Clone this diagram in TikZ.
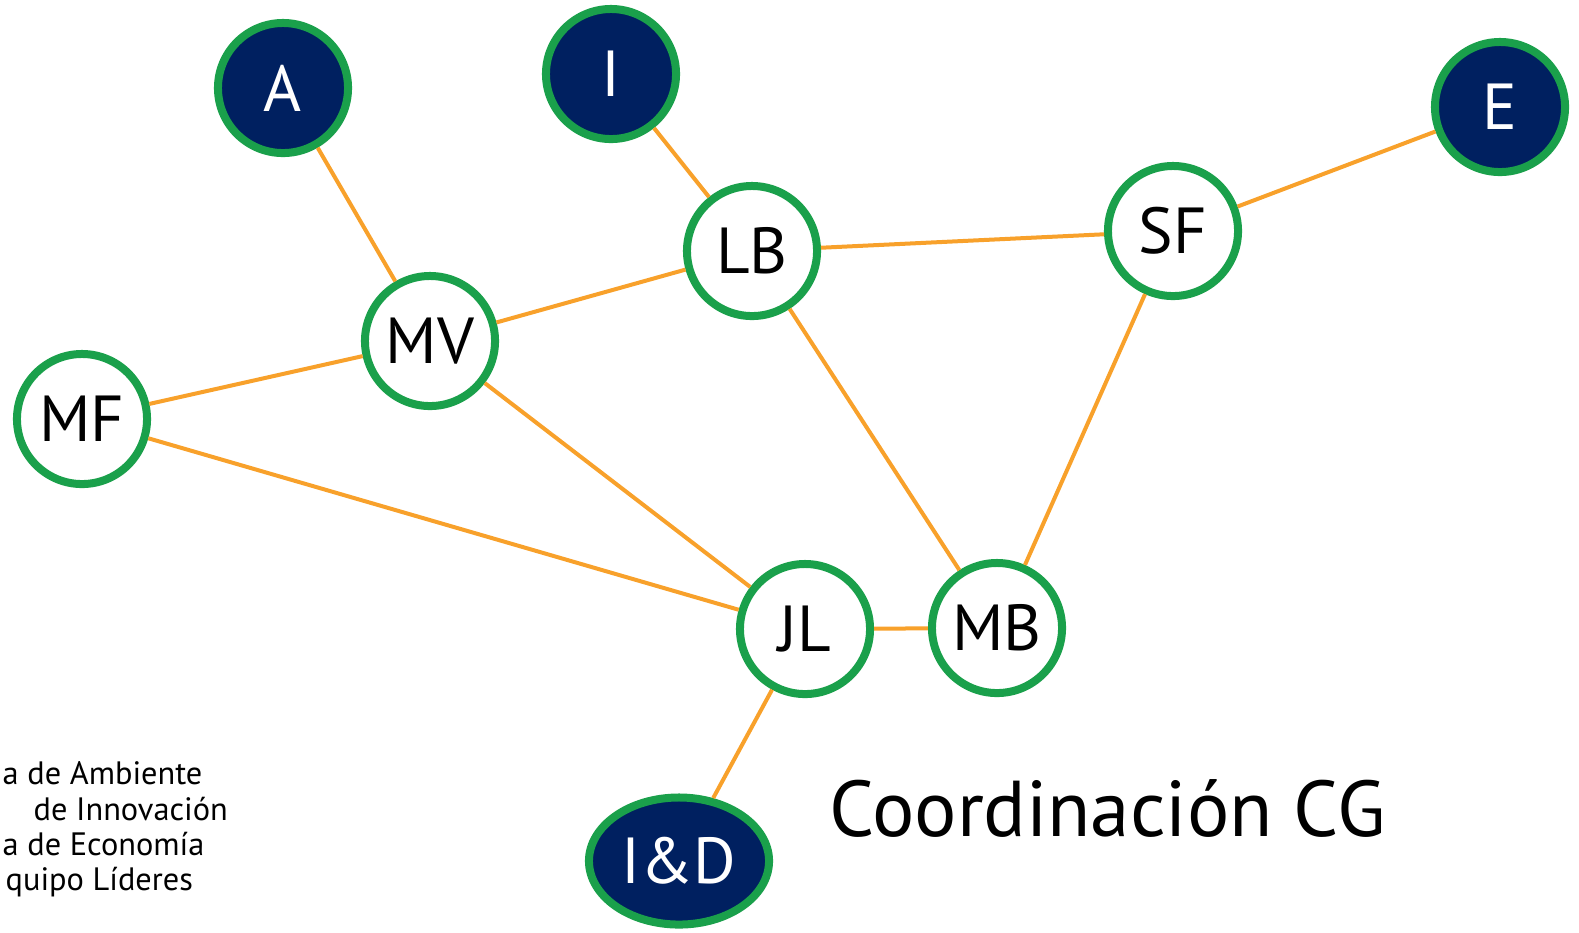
\documentclass[tikz,border=0pt]{standalone}
\usepackage{fontspec}
\setmainfont{PT Sans}
\usetikzlibrary{shapes.geometric,shadows}

\definecolor{navy}{RGB}{0,32,96}
\definecolor{ringgreen}{RGB}{26,160,75}
\definecolor{linkorange}{RGB}{248,161,43}

\begin{document}
\begin{tikzpicture} [
    x=0.01cm, y=-0.01cm,
    person/.style   = { circle, draw=ringgreen, line width=0.08cm, fill=white,
                        minimum size=1.3cm, inner sep=0pt, text=black,
                        font=\fontsize{18.5}{20}\selectfont,
                        drop shadow={opacity=0.12, shadow xshift=0.03cm, shadow yshift=-0.03cm} },
    group/.style    = { person, fill=navy, text=white },
    link/.style     = { draw=linkorange, line width=0.04cm },
    legend/.style   = { anchor=base west, inner sep=0pt,
                        font=\fontsize{9.2}{11}\selectfont },
  ]
  \useasboundingbox (0,0) rectangle (1579,932);

  % groups
  \node[group] (A)  at (283,88)  {A};
  \node[group] (I)  at (611,74)  {I};
  \node[group] (E)  at (1500,107) {E};
  \node[group, ellipse, minimum width=1.8cm, minimum height=1.27cm] (ID) at (679,861) {I\&D};

  % people
  \node[person] (MF) at (82,419)   {MF};
  \node[person] (MV) at (430,341)  {MV};
  \node[person] (LB) at (752,251)  {LB};
  \node[person] (SF) at (1173,231) {SF};
  \node[person] (JL) at (805,629)  {JL};
  \node[person] (MB) at (997,628)  {MB};

  % connect the nodes
  \path [link] (A)  -- (MV);
  \path [link] (I)  -- (LB);
  \path [link] (MV) -- (LB);
  \path [link] (LB) -- (SF);
  \path [link] (SF) -- (E);
  \path [link] (MF) -- (MV);
  \path [link] (MF) -- (JL);
  \path [link] (MV) -- (JL);
  \path [link] (LB) -- (MB);
  \path [link] (SF) -- (MB);
  \path [link] (JL) -- (MB);
  \path [link] (JL) -- (ID);

  % title and legend
  \node[anchor=base west, inner sep=0pt, font=\fontsize{22.5}{26}\selectfont] (title) at (829,836) {Coordinación CG};
  \node[legend] (lgA) at (2,784)  {a de Ambiente};
  \node[legend] (lgI) at (33,820) {de Innovación};
  \node[legend] (lgE) at (2,855)  {a de Economía};
  \node[legend] (lgL) at (5,890)  {quipo Líderes};
\end{tikzpicture}
\end{document}
